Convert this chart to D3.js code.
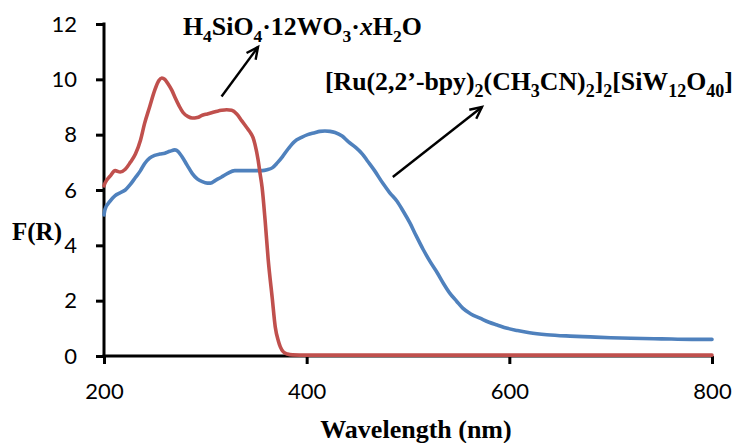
<!DOCTYPE html>
<html>
<head>
<meta charset="utf-8">
<script src="https://cdn.jsdelivr.net/npm/d3@7"></script>
<style>
  html, body { margin: 0; padding: 0; background: #fff; }
  svg { display: block; }
</style>
</head>
<body>
<svg id="chart" width="740" height="443"></svg>
<script>
// Diffuse-reflectance spectra, Kubelka–Munk function F(R) vs wavelength
const xTicks = [200, 400, 600, 800];
const yTicks = [0, 2, 4, 6, 8, 10, 12];

// H4SiO4·12WO3·xH2O
const acidNm = [200, 201, 206, 211, 216, 221, 226, 231, 236, 240, 245, 250, 254, 257, 260, 263, 267, 270, 274, 278,
  283, 287, 292, 297, 302, 307, 312, 316, 321, 326, 331, 336, 341, 344, 347, 349, 352, 354, 356, 359,
  362, 366, 369, 372, 374, 377, 381, 386, 400, 500, 600, 700, 800];
const acidF = [6.15, 6.25, 6.5, 6.7, 6.65, 6.75, 7.0, 7.3, 7.8, 8.4, 9.0, 9.6, 9.95, 10.05, 10.0, 9.85, 9.6, 9.35, 9.05, 8.8,
  8.65, 8.6, 8.62, 8.7, 8.75, 8.8, 8.85, 8.88, 8.9, 8.88, 8.75, 8.5, 8.25, 8.1, 7.9, 7.65, 7.1, 6.6, 6.1, 4.9,
  3.5, 2.1, 1.05, 0.55, 0.33, 0.15, 0.07, 0.04, 0.03, 0.03, 0.03, 0.03, 0.03];

// [Ru(2,2'-bpy)2(CH3CN)2]2[SiW12O40]
const ruNm = [200, 201, 206, 211, 216, 221, 226, 231, 236, 240, 245, 250, 255, 260, 265, 270, 273, 277, 282, 287,
  292, 297, 302, 305, 310, 316, 322, 329, 335, 342, 349, 356, 361, 366, 371, 376, 382, 388, 395, 401,
  408, 413, 418, 423, 428, 435, 441, 448, 455, 460, 467, 475, 482, 489, 495, 502, 508, 515, 522, 529,
  535, 541, 548, 554, 562, 571, 580, 588, 598, 608, 620, 637, 660, 680, 700, 720, 750, 780, 800];
const ruF = [5.1, 5.3, 5.6, 5.8, 5.9, 6.0, 6.2, 6.45, 6.7, 6.95, 7.15, 7.25, 7.3, 7.33, 7.4, 7.45, 7.4, 7.2, 6.9, 6.6,
  6.4, 6.3, 6.25, 6.25, 6.35, 6.47, 6.6, 6.7, 6.7, 6.7, 6.7, 6.7, 6.73, 6.8, 6.98, 7.2, 7.5, 7.75, 7.9, 8.0,
  8.07, 8.12, 8.13, 8.12, 8.08, 7.95, 7.75, 7.55, 7.3, 7.05, 6.7, 6.25, 5.9, 5.6, 5.25, 4.8, 4.35, 3.85, 3.4, 3.0,
  2.62, 2.28, 1.98, 1.73, 1.52, 1.37, 1.22, 1.12, 1.0, 0.92, 0.84, 0.77, 0.72, 0.69, 0.66, 0.64, 0.62, 0.6, 0.6];

const svg = d3.select("#chart");
const x = d3.scaleLinear().domain([200, 800]).range([104, 712]);
const y = d3.scaleLinear().domain([0, 12]).range([356, 24]);

const serif = "'Liberation Serif', 'Times New Roman', serif";
const sans = "Lato, 'Open Sans', sans-serif";

// Axes
const yAxis = svg.append("g")
  .attr("transform", `translate(${x(200)},0)`)
  .call(d3.axisLeft(y).tickValues(yTicks).tickSize(8).tickSizeOuter(0).tickPadding(19));
const xAxis = svg.append("g")
  .attr("transform", `translate(0,${y(0)})`)
  .call(d3.axisBottom(x).tickValues(xTicks).tickSize(8).tickSizeOuter(0).tickPadding(19));

[yAxis, xAxis].forEach(g => {
  g.select(".domain").attr("stroke", "#000").attr("stroke-width", 3);
  g.selectAll(".tick line").attr("stroke", "#000").attr("stroke-width", 3);
  g.selectAll(".tick text").attr("fill", "#000")
    .style("font-family", sans).style("font-size", "22px");
});
yAxis.select(".domain").attr("d", `M0,${y(12) - 1.5}V${y(0) + 1.5}`);
xAxis.select(".domain").attr("d", `M${x(200) - 1.5},0H${x(800)}`);

// Curves
const line = d3.line().x(d => x(d[0])).y(d => y(d[1])).curve(d3.curveMonotoneX);
const series = [
  { nm: ruNm, f: ruF, color: "#4F81BD" },
  { nm: acidNm, f: acidF, color: "#C0504D" }
];
series.forEach(s => {
  svg.append("path")
    .datum(s.nm.map((v, i) => [v, s.f[i]]))
    .attr("fill", "none")
    .attr("stroke", s.color)
    .attr("stroke-width", 3.6)
    .attr("stroke-linejoin", "round")
    .attr("stroke-linecap", "round")
    .attr("d", line);
});

// Axis titles
svg.append("text")
  .attr("x", 416).attr("y", 438)
  .attr("text-anchor", "middle")
  .style("font-family", serif).style("font-weight", "bold").style("font-size", "26px")
  .text("Wavelength (nm)");

svg.append("text")
  .attr("x", 12).attr("y", 240)
  .style("font-family", serif).style("font-weight", "bold").style("font-size", "25px")
  .text("F(R)");

// Compound labels with subscripts, sized to fit the given width
function formula(xPos, yPos, parts, size, subRatio, fitWidth) {
  const t = svg.append("text")
    .attr("x", xPos).attr("y", yPos)
    .style("font-family", serif).style("font-weight", "bold");
  const draw = sz => {
    t.selectAll("tspan").remove();
    t.style("font-size", sz + "px");
    let shifted = false;
    parts.forEach(p => {
      const sub = p.sub === true;
      const ts = t.append("tspan").text(p.t);
      if (sub && !shifted) { ts.attr("dy", sz * 0.28); shifted = true; }
      else if (!sub && shifted) { ts.attr("dy", -sz * 0.28); shifted = false; }
      if (sub) ts.style("font-size", (sz * subRatio) + "px");
      if (p.it) ts.style("font-style", "italic");
    });
  };
  draw(size);
  const w = t.node().getBBox().width;
  if (w > 0) draw(size * fitWidth / w);
}

formula(183, 35, [
  { t: "H" }, { t: "4", sub: true }, { t: "SiO" }, { t: "4", sub: true },
  { t: "·12WO" }, { t: "3", sub: true }, { t: "·" }, { t: "x", it: true }, { t: "H" }, { t: "2", sub: true }, { t: "O" }
], 26, 0.68, 239);

formula(325, 90, [
  { t: "[Ru(2,2’-bpy)" }, { t: "2", sub: true }, { t: "(CH" }, { t: "3", sub: true }, { t: "CN)" }, { t: "2", sub: true },
  { t: "]" }, { t: "2", sub: true }, { t: "[SiW" }, { t: "12", sub: true }, { t: "O" }, { t: "40", sub: true }, { t: "]" }
], 25, 0.7, 408);

// Pointer arrows from each curve to its label (data coordinates)
const arrows = [
  { from: [316, 9.38], to: [352, 11.17] },
  { from: [485, 6.47], to: [573, 9.0] }
];
arrows.forEach(a => {
  const x1 = x(a.from[0]), y1 = y(a.from[1]), x2 = x(a.to[0]), y2 = y(a.to[1]);
  const ang = Math.atan2(y2 - y1, x2 - x1);
  const len = 13, spread = Math.PI / 7;
  svg.append("line")
    .attr("x1", x1).attr("y1", y1).attr("x2", x2).attr("y2", y2)
    .attr("stroke", "#000").attr("stroke-width", 2.4);
  const p1 = [x2 - len * Math.cos(ang - spread), y2 - len * Math.sin(ang - spread)];
  const p2 = [x2 - len * Math.cos(ang + spread), y2 - len * Math.sin(ang + spread)];
  svg.append("path")
    .attr("d", `M${p1[0]},${p1[1]}L${x2},${y2}L${p2[0]},${p2[1]}`)
    .attr("fill", "none").attr("stroke", "#000").attr("stroke-width", 2.4)
    .attr("stroke-linejoin", "miter");
});
</script>
</body>
</html>
